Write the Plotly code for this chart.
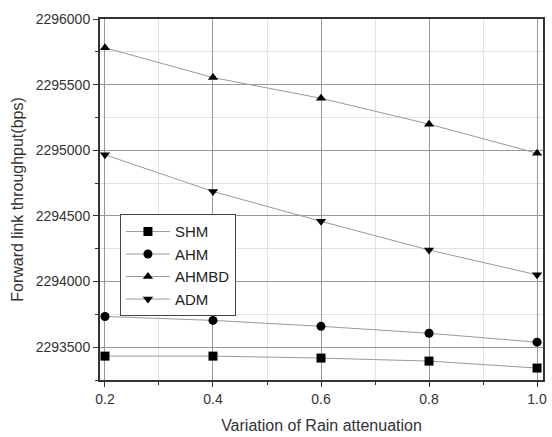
import plotly.graph_objects as go

x_vals = [0.2, 0.4, 0.6, 0.8, 1.0]
shm = [2293432, 2293432, 2293417, 2293394, 2293341]
ahm = [2293734, 2293704, 2293659, 2293606, 2293538]
ahmbd = [2295781, 2295554, 2295396, 2295199, 2294977]
adm = [2294966, 2294686, 2294459, 2294240, 2294051]

series = [
    ("SHM", shm, "square"),
    ("AHM", ahm, "circle"),
    ("AHMBD", ahmbd, "triangle-up"),
    ("ADM", adm, "triangle-down"),
]

fig = go.Figure()
for name, vals, sym in series:
    fig.add_trace(go.Scatter(
        x=x_vals, y=vals, name=name, mode="lines+markers",
        line=dict(color="#9a9a9a", width=1),
        marker=dict(symbol=sym, color="black", size=9),
    ))

font = "Liberation Sans, Arial, sans-serif"
fig.update_layout(
    width=552, height=437,
    margin=dict(l=100, r=5, t=19, b=54),
    plot_bgcolor="white", paper_bgcolor="white",
    font=dict(family=font, size=14, color="#333"),
    legend=dict(
        x=0.045, y=0.459, xanchor="left", yanchor="top",
        bordercolor="#444", borderwidth=1, bgcolor="white",
        font=dict(size=15, color="#222"), tracegroupgap=0, itemwidth=44,
    ),
)
fig.update_xaxes(
    range=[0.1908, 1.011], tick0=0.2, dtick=0.2, tickformat=".1f",
    showline=True, linecolor="#333", linewidth=2, mirror=True,
    ticks="outside", ticklen=5, tickcolor="#333",
    showgrid=True, gridcolor="#999", gridwidth=1,
    zeroline=False,
    minor=dict(dtick=0.1, tick0=0.2, showgrid=True, gridcolor="#e2e2e2",
               ticks="outside", ticklen=3, tickcolor="#333"),
    title=dict(text="Variation of Rain attenuation", font=dict(size=16, color="#333"), standoff=14),
)
fig.update_yaxes(
    range=[2293250, 2296000], tick0=2293500, dtick=500, tickformat="d",
    showline=True, linecolor="#333", linewidth=2, mirror=True,
    ticks="outside", ticklen=5, tickcolor="#333",
    showgrid=True, gridcolor="#999", gridwidth=1,
    zeroline=False,
    minor=dict(dtick=250, showgrid=True, gridcolor="#e2e2e2",
               ticks="outside", ticklen=3, tickcolor="#333"),
    title=dict(text="Forward link throughput(bps)", font=dict(size=16, color="#333"), standoff=8),
)

fig.write_html("out.html", config={"displayModeBar": False},
               post_script="document.body.style.margin='0';")
